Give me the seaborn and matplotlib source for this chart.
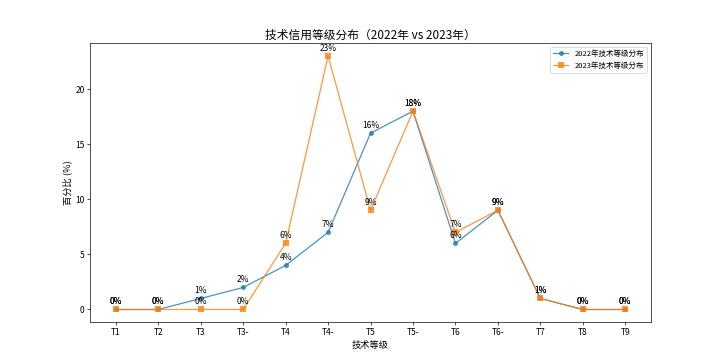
import numpy as np
import pandas as pd
import seaborn as sns
import matplotlib.pyplot as plt

# data
levels = ['T1', 'T2', 'T3', 'T3-', 'T4', 'T4-', 'T5', 'T5-', 'T6', 'T6-', 'T7', 'T8', 'T9']
pct_2022 = [0, 0, 1, 2, 4, 7, 16, 18, 6, 9, 1, 0, 0]
pct_2023 = [0, 0, 0, 0, 6, 23, 9, 18, 7, 9, 1, 0, 0]

plt.rcParams['font.family'] = ['Noto Sans CJK SC', 'DejaVu Sans']
plt.rcParams['axes.unicode_minus'] = False

df22 = pd.DataFrame({'level': levels, 'pct': pct_2022})
df23 = pd.DataFrame({'level': levels, 'pct': pct_2023})

fig = plt.figure(figsize=(12, 6.01), dpi=60.25)
ax = plt.gca()

sns.lineplot(data=df22, x='level', y='pct', marker='o', sort=False,
             color='#1f77b4', alpha=0.8, linewidth=1.5, markersize=6,
             markeredgewidth=0, label='2022年技术等级分布', ax=ax)
sns.lineplot(data=df23, x='level', y='pct', marker='s', sort=False,
             color='#ff7f0e', alpha=0.8, linewidth=1.5, markersize=6,
             markeredgewidth=0, label='2023年技术等级分布', ax=ax)

# labels on points
for i, v in enumerate(pct_2022):
    ax.annotate(f'{v}%', (i, v), textcoords='offset points', xytext=(0, 4),
                ha='center', va='bottom', fontsize=10)
for i, v in enumerate(pct_2023):
    ax.annotate(f'{v}%', (i, v), textcoords='offset points', xytext=(0, 4),
                ha='center', va='bottom', fontsize=10)

ax.set_title('技术信用等级分布（2022年 vs 2023年）', fontsize=14)
ax.set_xlabel('技术等级', fontsize=11)
ax.set_ylabel('百分比 (%)', fontsize=11)
ax.legend(loc='upper right', fontsize=9)

plt.savefig('out.png', dpi=60.25)
